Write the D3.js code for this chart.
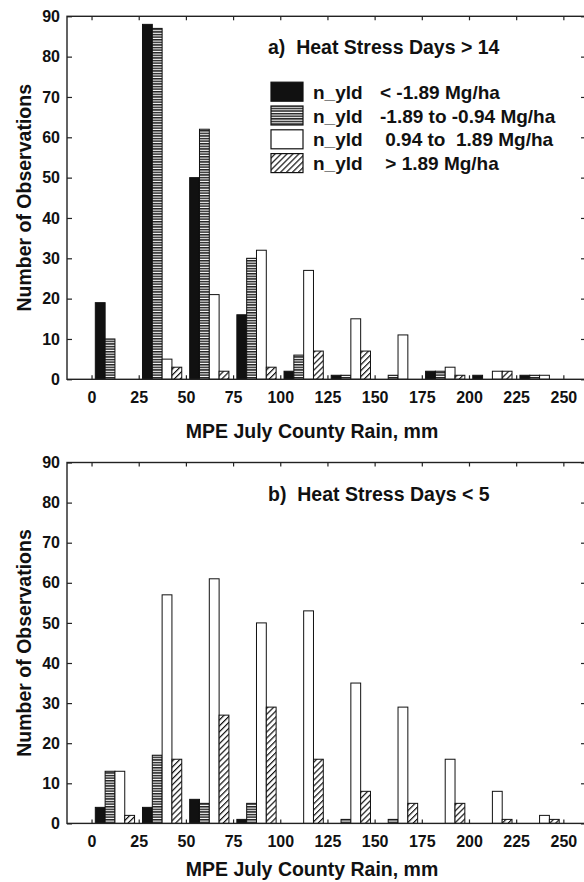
<!DOCTYPE html>
<html lang="en">
<head>
    <meta charset="UTF-8">
    <title>Heat Stress Days histograms</title>
    <style>
        body { margin: 0; background: #fff; }
        svg text { font-family: "Liberation Sans", Arial, sans-serif; font-weight: bold; fill: #111; }
    </style>
</head>
<body>
    <svg id="chart" width="584" height="882"></svg>

    <script src="https://cdn.jsdelivr.net/npm/d3@7/dist/d3.min.js"></script>
    <script>
        // rain bins (mm), left edge of each 25 mm class
        var bins = [0, 25, 50, 75, 100, 125, 150, 175, 200, 225];
        var xTicks = [0, 25, 50, 75, 100, 125, 150, 175, 200, 225, 250];
        var yTicks = [0, 10, 20, 30, 40, 50, 60, 70, 80, 90];

        var classNames = ["< -1.89 Mg/ha", "-1.89 to -0.94 Mg/ha", " 0.94 to  1.89 Mg/ha", " > 1.89 Mg/ha"];

        // a) heat stress days > 14
        var hotVeryLow = [19, 88, 50, 16, 2, 1, 0, 2, 1, 1];
        var hotLow = [10, 87, 62, 30, 6, 1, 1, 2, 0, 1];
        var hotHigh = [0, 5, 21, 32, 27, 15, 11, 3, 2, 1];
        var hotVeryHigh = [0, 3, 2, 3, 7, 7, 0, 1, 2, 0];

        // b) heat stress days < 5
        var coolVeryLow = [4, 4, 6, 1, 0, 0, 0, 0, 0, 0];
        var coolLow = [13, 17, 5, 5, 0, 1, 1, 0, 0, 0];
        var coolHigh = [13, 57, 61, 50, 53, 35, 29, 16, 8, 2];
        var coolVeryHigh = [2, 16, 27, 29, 16, 8, 5, 5, 1, 1];

        var svg = d3.select("#chart");

        // fill patterns
        var defs = svg.append("defs");
        var lines = defs.append("pattern")
            .attr("id", "hlines")
            .attr("patternUnits", "userSpaceOnUse")
            .attr("width", 6).attr("height", 2.6);
        lines.append("rect").attr("width", 6).attr("height", 2.6).attr("fill", "#fff");
        lines.append("rect").attr("y", 0).attr("width", 6).attr("height", 1.5).attr("fill", "#222");

        var hatch = defs.append("pattern")
            .attr("id", "hatch")
            .attr("patternUnits", "userSpaceOnUse")
            .attr("width", 4.2).attr("height", 4.2)
            .attr("patternTransform", "rotate(45)");
        hatch.append("rect").attr("width", 4.2).attr("height", 4.2).attr("fill", "#fff");
        hatch.append("line")
            .attr("x1", 0.6).attr("y1", 0).attr("x2", 0.6).attr("y2", 4.2)
            .attr("stroke", "#111").attr("stroke-width", 1.2);

        var fills = ["#111", "url(#hlines)", "#fff", "url(#hatch)"];

        var x = d3.scaleLinear()
            .domain([-13, 262])
            .range([67, 586]);

        var barW = 5.2;  // mm
        var barStart = 2; // mm from bin edge

        drawPanel(16.3, 379.3, "a)  Heat Stress Days > 14",
            [hotVeryLow, hotLow, hotHigh, hotVeryHigh], true, 437.5);
        drawPanel(462.5, 823.4, "b)  Heat Stress Days < 5",
            [coolVeryLow, coolLow, coolHigh, coolVeryHigh], false, 876);

        // y axis titles
        [197.8, 643].forEach(function (cy) {
            svg.append("text")
                .attr("transform", "translate(31," + cy + ") rotate(-90)")
                .attr("text-anchor", "middle")
                .style("font-size", "19.5px")
                .text("Number of Observations");
        });

        function drawPanel(top, bottom, title, series, showLegend, xTitleY) {
            var y = d3.scaleLinear()
                .domain([0, 90])
                .range([bottom, top]);

            var g = svg.append("g");

            // bars (empty classes are skipped)
            series.forEach(function (vals, k) {
                var pts = vals.map(function (v, i) { return { bin: bins[i], v: v }; })
                    .filter(function (d) { return d.v > 0; });

                g.selectAll(null)
                    .data(pts)
                    .enter()
                    .append("rect")
                    .attr("x", function (d) { return x(d.bin + barStart + k * barW); })
                    .attr("y", function (d) { return y(d.v); })
                    .attr("width", x(barW) - x(0))
                    .attr("height", function (d) { return bottom - y(d.v); })
                    .attr("fill", fills[k])
                    .attr("stroke", "#111")
                    .attr("stroke-width", 1);
            });

            // frame
            g.append("rect")
                .attr("x", x.range()[0])
                .attr("y", top)
                .attr("width", x.range()[1] - x.range()[0])
                .attr("height", bottom - top)
                .attr("fill", "none")
                .attr("stroke", "#222")
                .attr("stroke-width", 1.4);

            // axes, ticks pointing inwards
            var left = g.append("g")
                .attr("transform", "translate(" + x.range()[0] + ",0)")
                .call(d3.axisLeft(y).tickValues(yTicks).tickSizeInner(-5).tickSizeOuter(0).tickPadding(7));
            left.selectAll("text").style("font-size", "16px");

            g.append("g")
                .attr("transform", "translate(" + x.range()[1] + ",0)")
                .call(d3.axisRight(y).tickValues(yTicks).tickSizeInner(-5).tickSizeOuter(0).tickFormat(""));

            var bot = g.append("g")
                .attr("transform", "translate(0," + bottom + ")")
                .call(d3.axisBottom(x).tickValues(xTicks).tickSizeInner(-4).tickSizeOuter(0).tickPadding(12));
            bot.selectAll("text").style("font-size", "16px");

            g.append("g")
                .attr("transform", "translate(0," + top + ")")
                .call(d3.axisTop(x).tickValues(xTicks).tickSizeInner(-4).tickSizeOuter(0).tickFormat(""));

            g.selectAll(".domain").remove();
            g.selectAll(".tick line").attr("stroke", "#222").attr("stroke-width", 1.2);

            // panel title
            g.append("text")
                .attr("x", 268)
                .attr("y", top + 38)
                .style("font-size", "19.5px")
                .style("white-space", "pre")
                .text(title);

            // x axis title
            g.append("text")
                .attr("x", 312)
                .attr("y", xTitleY)
                .attr("text-anchor", "middle")
                .style("font-size", "19.5px")
                .text("MPE July County Rain, mm");

            if (showLegend) {
                var legend = g.append("g").attr("id", "legend");
                var rows = legend.selectAll("g")
                    .data(classNames)
                    .enter()
                    .append("g")
                    .attr("transform", function (d, i) { return "translate(271," + (91.7 + i * 23.8) + ")"; });

                rows.append("rect")
                    .attr("x", 0).attr("y", -9.5)
                    .attr("width", 32).attr("height", 19)
                    .attr("fill", function (d, i) { return fills[i]; })
                    .attr("stroke", "#111")
                    .attr("stroke-width", 1.2);

                rows.append("text")
                    .attr("x", 42).attr("y", 7)
                    .style("font-size", "19px")
                    .text("n_yld");

                rows.append("text")
                    .attr("x", 109).attr("y", 7)
                    .style("font-size", "19px")
                    .style("white-space", "pre")
                    .text(function (d) { return d; });
            }
        }
    </script>
</body>
</html>
